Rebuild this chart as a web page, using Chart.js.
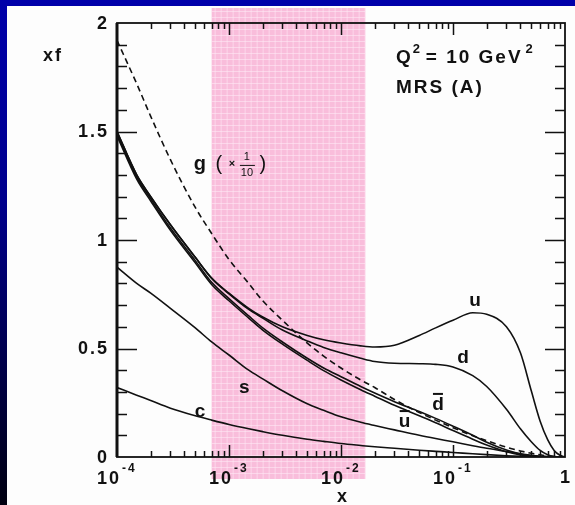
<!DOCTYPE html>
<html>
<head>
<meta charset="utf-8">
<script src="https://cdn.jsdelivr.net/npm/chart.js@4"></script>
<style>
  html, body { margin: 0; padding: 0; }
  body {
    width: 575px; height: 505px; overflow: hidden; position: relative;
    background: linear-gradient(#0000aa 0%, #00008c 40%, #000010 100%);
  }
  #panel { position: absolute; left: 7px; top: 6px; width: 568px; height: 499px; background: #fdfdfd; }
  #wrap { position: absolute; left: 0; top: 0; width: 575px; height: 505px; }
</style>
</head>
<body>
<div id="panel"></div>
<div id="wrap"><canvas id="pdfChart" width="575" height="505"></canvas></div>
<script>
// x grid shared by all curves
var xs = [1e-4, 1.5e-4, 2e-4, 3e-4, 5e-4, 7e-4, 1e-3, 1.5e-3, 2e-3, 3e-3, 5e-3, 7e-3,
          0.01, 0.015, 0.02, 0.03, 0.05, 0.07, 0.1, 0.15, 0.2, 0.3, 0.4, 0.5, 0.6, 0.7, 0.8, 0.9, 1];

var uVal = [1.50, 1.30, 1.20, 1.07, 0.92, 0.825, 0.755, 0.685, 0.645, 0.60, 0.56, 0.54,
            0.525, 0.512, 0.507, 0.515, 0.56, 0.595, 0.63, 0.665, 0.658, 0.60, 0.48, 0.305, 0.165, 0.08, 0.03, 0.008, 0];
var dVal = [1.50, 1.30, 1.20, 1.07, 0.92, 0.823, 0.752, 0.68, 0.64, 0.585, 0.535, 0.505,
            0.48, 0.455, 0.44, 0.432, 0.43, 0.427, 0.415, 0.375, 0.325, 0.22, 0.13, 0.07, 0.03, 0.01, 0.002, 0, 0];
var dbarVal = [1.49, 1.29, 1.19, 1.055, 0.905, 0.805, 0.73, 0.65, 0.595, 0.53, 0.455, 0.41,
               0.37, 0.325, 0.295, 0.255, 0.21, 0.178, 0.142, 0.10, 0.068, 0.032, 0.014, 0.005, 0.001, 0, 0, 0, 0];
var ubarVal = [1.48, 1.28, 1.18, 1.045, 0.895, 0.795, 0.72, 0.64, 0.585, 0.52, 0.445, 0.398,
               0.355, 0.31, 0.28, 0.238, 0.19, 0.158, 0.122, 0.082, 0.055, 0.024, 0.009, 0.003, 0, 0, 0, 0, 0];
var gVal = [1.92, 1.72, 1.57, 1.37, 1.15, 1.03, 0.91, 0.80, 0.72, 0.63, 0.525, 0.465,
            0.41, 0.355, 0.32, 0.265, 0.205, 0.17, 0.135, 0.098, 0.075, 0.045, 0.028, 0.017, 0.01, 0.005, 0.002, 0.001, 0];
var sVal = [0.875, 0.80, 0.755, 0.685, 0.595, 0.53, 0.47, 0.40, 0.36, 0.305, 0.245, 0.215,
            0.185, 0.16, 0.145, 0.125, 0.10, 0.085, 0.07, 0.052, 0.04, 0.025, 0.015, 0.008, 0.004, 0.002, 0, 0, 0];
var cVal = [0.32, 0.285, 0.26, 0.225, 0.19, 0.17, 0.15, 0.13, 0.117, 0.10, 0.082, 0.072,
            0.062, 0.053, 0.047, 0.04, 0.031, 0.026, 0.021, 0.015, 0.011, 0.006, 0.003, 0.001, 0, 0, 0, 0, 0];

var yTicks = [0, 0.5, 1, 1.5, 2];
var yTickLabels = ['0', '0.5', '1', '1.5', '2'];
var xDecades = [1e-4, 1e-3, 1e-2, 1e-1, 1];
var xDecadeExp = ['-4', '-3', '-2', '-1', ''];
var bandRange = [7e-4, 0.0165];   // shaded x window

// curve labels: text and where they sit (data coords)
var curveLabels = [
  { t: 'u', x: 0.157, y: 0.72 },
  { t: 'd', x: 0.123, y: 0.456 },
  { t: 'd', x: 0.0734, y: 0.24, bar: true },
  { t: 'u', x: 0.037, y: 0.161, bar: true },
  { t: 's', x: 0.00137, y: 0.318 },
  { t: 'c', x: 0.00055, y: 0.207 }
];
var gLabel = { x: 0.00055, y: 1.346 };

function pts(vals) {
  return xs.map(function (x, i) { return { x: x, y: vals[i] }; });
}

function mkSet(label, vals, dash) {
  return {
    label: label,
    data: pts(vals),
    borderColor: '#111',
    borderWidth: 1.6,
    borderDash: dash || [],
    pointRadius: 0,
    fill: false,
    cubicInterpolationMode: 'monotone'
  };
}

var FONT = '"Liberation Sans", Arial, sans-serif';

var framePlugin = {
  id: 'frame',
  beforeDatasetsDraw: function (chart) {
    var ctx = chart.ctx, xs_ = chart.scales.x;
    var x0 = xs_.getPixelForValue(bandRange[0]);
    var x1 = xs_.getPixelForValue(bandRange[1]);
    ctx.save();
    ctx.fillStyle = '#f9bddb';
    ctx.fillRect(x0, 8, x1 - x0, 471);
    // faint grid texture of the shading
    ctx.strokeStyle = 'rgba(255,235,245,0.55)';
    ctx.lineWidth = 1;
    for (var gx = x0 + 3; gx < x1; gx += 6) {
      ctx.beginPath(); ctx.moveTo(gx + 0.5, 8); ctx.lineTo(gx + 0.5, 479); ctx.stroke();
    }
    for (var gy = 11; gy < 479; gy += 6) {
      ctx.beginPath(); ctx.moveTo(x0, gy + 0.5); ctx.lineTo(x1, gy + 0.5); ctx.stroke();
    }
    ctx.restore();
  },
  afterDatasetsDraw: function (chart) {
    var ctx = chart.ctx, a = chart.chartArea;
    var sx = chart.scales.x, sy = chart.scales.y;
    ctx.save();
    ctx.strokeStyle = '#111';
    // frame
    ctx.lineWidth = 1.8;
    ctx.strokeRect(a.left, a.top, a.right - a.left, a.bottom - a.top);
    ctx.lineWidth = 3;
    ctx.beginPath(); ctx.moveTo(a.left, a.top); ctx.lineTo(a.left, a.bottom); ctx.stroke();

    // y ticks every 0.1, long ones on 0.5
    ctx.lineWidth = 1.5;
    for (var k = 1; k < 20; k++) {
      var v = k / 10;
      var py = Math.round(sy.getPixelForValue(v)) + 0.5;
      var len = (k % 5 === 0) ? 20 : 10;
      ctx.beginPath();
      ctx.moveTo(a.left, py); ctx.lineTo(a.left + len, py);
      ctx.moveTo(a.right, py); ctx.lineTo(a.right - len, py);
      ctx.stroke();
    }
    // x log ticks
    for (var d = 0; d < xDecades.length; d++) {
      var dec = xDecades[d];
      for (var m = 1; m < 10; m++) {
        var xv = dec * m;
        if (xv > 1 || (m === 1 && (d === 0 || d === xDecades.length - 1))) continue;
        var px = Math.round(sx.getPixelForValue(xv)) + 0.5;
        var l = (m === 1) ? 12 : 6;
        ctx.beginPath();
        ctx.moveTo(px, a.bottom); ctx.lineTo(px, a.bottom - l);
        ctx.moveTo(px, a.top); ctx.lineTo(px, a.top + l);
        ctx.stroke();
      }
    }

    // y tick labels
    ctx.fillStyle = '#111';
    ctx.font = 'bold 18px ' + FONT;
    if ('letterSpacing' in ctx) ctx.letterSpacing = '2px';
    ctx.textAlign = 'right';
    ctx.textBaseline = 'middle';
    yTicks.forEach(function (v, i) {
      ctx.fillText(yTickLabels[i], a.left - 8, sy.getPixelForValue(v) + 1);
    });

    // x tick labels 10^n
    xDecades.forEach(function (v, i) {
      var px = sx.getPixelForValue(v);
      if (xDecadeExp[i] === '') {
        ctx.font = 'bold 18px ' + FONT;
        ctx.textAlign = 'center';
        ctx.fillText('1', px + 1, 478);
      } else {
        ctx.font = 'bold 18px ' + FONT;
        ctx.textAlign = 'right';
        ctx.fillText('10', px + 4, 479);
        ctx.font = 'bold 12px ' + FONT;
        ctx.textAlign = 'left';
        ctx.fillText(xDecadeExp[i], px + 5, 469);
      }
    });

    // axis titles
    ctx.font = 'bold 18px ' + FONT;
    ctx.textAlign = 'center';
    ctx.fillText('x', sx.getPixelForValue(0.01) + 2, 497);
    ctx.fillText('xf', 53, 56);

    // Q^2 / MRS(A) note
    ctx.textAlign = 'left';
    var qx = 396, qy = 58;
    ctx.font = 'bold 19px ' + FONT;
    ctx.fillText('Q', qx, qy);
    var w = ctx.measureText('Q').width;
    ctx.font = 'bold 13px ' + FONT;
    ctx.fillText('2', qx + w, qy - 9);
    ctx.font = 'bold 19px ' + FONT;
    ctx.fillText('= 10 GeV', qx + w + 13, qy);
    var w2 = ctx.measureText('= 10 GeV').width;
    ctx.font = 'bold 13px ' + FONT;
    ctx.fillText('2', qx + w + 16 + w2, qy - 9);
    ctx.font = 'bold 19px ' + FONT;
    ctx.fillText('MRS (A)', qx, 88);

    // curve labels
    ctx.textAlign = 'center';
    curveLabels.forEach(function (c) {
      var px = sx.getPixelForValue(c.x), py = sy.getPixelForValue(c.y);
      ctx.font = 'bold 19px ' + FONT;
      if ('letterSpacing' in ctx) ctx.letterSpacing = '0px';
      ctx.fillText(c.t, px, py);
      if (c.bar) {
        ctx.lineWidth = 2;
        ctx.beginPath(); ctx.moveTo(px - 5, py - 11); ctx.lineTo(px + 5, py - 11); ctx.stroke();
      }
    });

    // g ( x 1/10 )
    var gx0 = sx.getPixelForValue(gLabel.x), gy0 = sy.getPixelForValue(gLabel.y);
    ctx.textAlign = 'center';
    ctx.font = 'bold 20px ' + FONT;
    ctx.fillText('g', gx0, gy0);
    ctx.font = '20px ' + FONT;
    ctx.fillText('(', gx0 + 19, gy0);
    ctx.fillText(')', gx0 + 63, gy0);
    ctx.font = 'bold 11px ' + FONT;
    ctx.fillText('\u00d7', gx0 + 32, gy0 - 1);
    ctx.font = '11px ' + FONT;
    ctx.fillText('1', gx0 + 47, gy0 - 8);
    ctx.fillText('10', gx0 + 47, gy0 + 8);
    ctx.lineWidth = 1;
    ctx.beginPath(); ctx.moveTo(gx0 + 40, gy0 + 0.5); ctx.lineTo(gx0 + 55, gy0 + 0.5); ctx.stroke();
    ctx.restore();
  }
};

var ctx = document.getElementById('pdfChart').getContext('2d');
var pdfChart = new Chart(ctx, {
  type: 'line',
  data: {
    datasets: [
      mkSet('u', uVal),
      mkSet('d', dVal),
      mkSet('dbar', dbarVal),
      mkSet('ubar', ubarVal),
      mkSet('g/10', gVal, [6, 4]),
      mkSet('s', sVal),
      mkSet('c', cVal)
    ]
  },
  options: {
    responsive: false,
    animation: false,
    layout: { padding: { left: 117, right: 10, top: 23, bottom: 48 } },
    plugins: { legend: { display: false }, tooltip: { enabled: false } },
    scales: {
      x: { type: 'logarithmic', min: 1e-4, max: 1, display: false },
      y: { type: 'linear', min: 0, max: 2, display: false }
    }
  },
  plugins: [framePlugin]
});
</script>
</body>
</html>
